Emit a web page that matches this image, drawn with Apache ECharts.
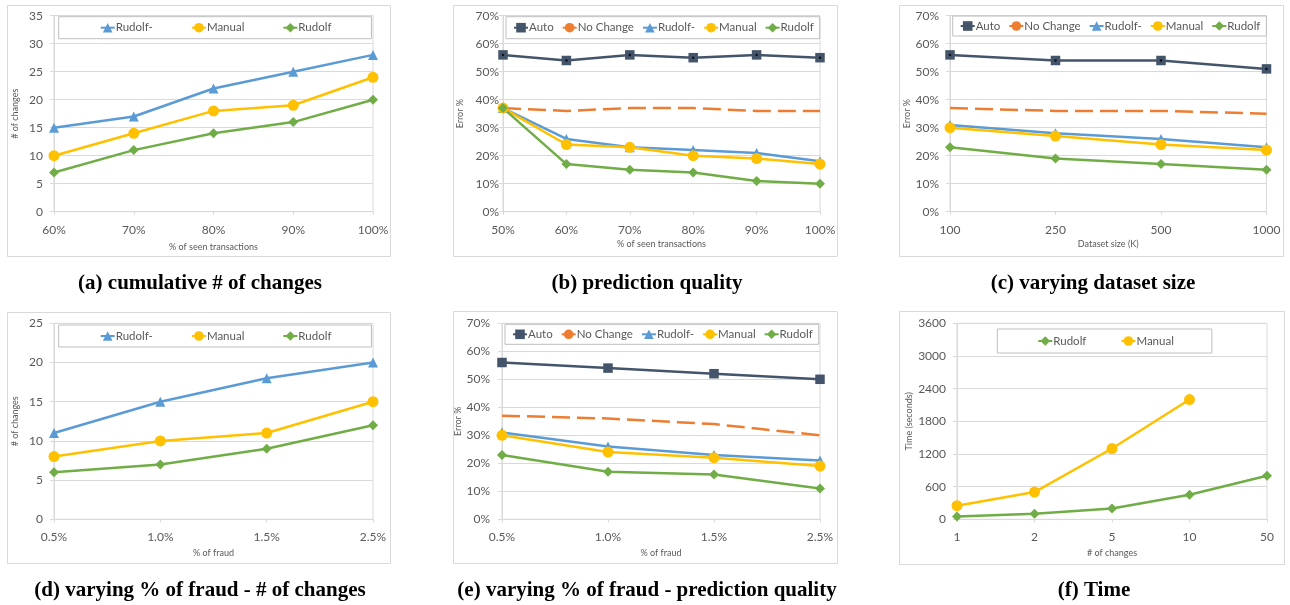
<!DOCTYPE html>
<html><head><meta charset="utf-8">
<script src="https://cdn.jsdelivr.net/npm/echarts@6/dist/echarts.min.js"></script>
<style>html,body{margin:0;padding:0;background:#fff}#c{width:1290px;height:605px}</style>
</head><body><div id="c"></div><script>
// ---------- DATA ----------
// (a) cumulative # of changes
const catsA = ['60%','70%','80%','90%','100%'];
const aRudolfMinus = [15,17,22,25,28];
const aManual = [10,14,18,19,24];
const aRudolf = [7,11,14,16,20];
const yA = {max:35, step:5};
// (b) prediction quality
const catsB = ['50%','60%','70%','80%','90%','100%'];
const bAuto = [56,54,56,55,56,55];
const bNoChange = [37,36,37,37,36,36];
const bRudolfMinus = [37,26,23,22,21,18];
const bManual = [37,24,23,20,19,17];
const bRudolf = [37,17,15,14,11,10];
// (c) varying dataset size
const catsC = ['100','250','500','1000'];
const cAuto = [56,54,54,51];
const cNoChange = [37,36,36,35];
const cRudolfMinus = [31,28,26,23];
const cManual = [30,27,24,22];
const cRudolf = [23,19,17,15];
// (d) varying % of fraud - # of changes
const catsD = ['0.5%','1.0%','1.5%','2.5%'];
const dRudolfMinus = [11,15,18,20];
const dManual = [8,10,11,15];
const dRudolf = [6,7,9,12];
const yD = {max:25, step:5};
// (e) varying % of fraud - prediction quality
const catsE = ['0.5%','1.0%','1.5%','2.5%'];
const eAuto = [56,54,52,50];
const eNoChange = [37,36,34,30];
const eRudolfMinus = [31,26,23,21];
const eManual = [30,24,22,19];
const eRudolf = [23,17,16,11];
// (f) Time
const catsF = ['1','2','5','10','50'];
const fRudolf = [50,100,200,450,800];
const fManual = [250,500,1300,2200,null];
const yF = {max:3600, step:600};
const yPct = {max:70, step:10};

const captions = ['(a) cumulative # of changes','(b) prediction quality','(c) varying dataset size',
  '(d) varying % of fraud - # of changes','(e) varying % of fraud - prediction quality','(f) Time'];
const xNames = ['% of seen transactions','% of seen transactions','Dataset size (K)','% of fraud','% of fraud','# of changes'];
const yNames = ['# of changes','Error %','Error %','# of changes','Error %','Time (seconds)'];

// ---------- STYLE ----------
const FONT = 'Lato';
const TXT = '#595959';
const GRID = '#d9d9d9';
const C = {auto:'#44546a', nochange:'#ed7d31', rminus:'#5b9bd5', manual:'#ffc000', rudolf:'#70ad47'};

const grids = [
  {left:54, top:15.7, width:319, height:196},
  {left:503, top:15.7, width:317, height:196},
  {left:950, top:15.7, width:316.5, height:196},
  {left:54, top:323.3, width:319, height:196},
  {left:502, top:323.3, width:318, height:196},
  {left:957, top:323.3, width:310, height:196}
].map(g => Object.assign({show:true, borderColor:GRID, borderWidth:1, containLabel:false}, g));

const cats = [catsA,catsB,catsC,catsD,catsE,catsF];
const xNameGaps = [31,28,28,29,29,29];
const xAxis = cats.map((c,i) => ({
  type:'category', gridIndex:i, data:c, boundaryGap:false,
  axisLine:{show:true, lineStyle:{color:GRID, width:1}},
  axisTick:{show:true, alignWithLabel:true, length:3, lineStyle:{color:GRID}},
  axisLabel:{color:TXT, fontSize:12, fontFamily:FONT, margin:12},
  splitLine:{show:false},
  name:xNames[i], nameLocation:'middle', nameGap:xNameGaps[i],
  nameTextStyle:{color:TXT, fontSize:9, fontFamily:FONT}
}));

const yRanges = [yA,yPct,yPct,yD,yPct,yF];
const yMargins = [11,4,11,11,12,11];
const yNameGaps = [34,38,38,34,37,43];
const yAxis = yRanges.map((r,i) => ({
  type:'value', gridIndex:i, min:0, max:r.max, interval:r.step,
  axisLine:{show:true, lineStyle:{color:GRID, width:1}},
  axisTick:{show:true, length:4, lineStyle:{color:GRID}},
  axisLabel:{color:TXT, fontSize:12, fontFamily:FONT, margin:yMargins[i],
    formatter: r===yPct ? (v => v + '%') : (v => String(v))},
  splitLine:{show:true, lineStyle:{color:GRID, width:1}},
  name:yNames[i], nameLocation:'middle', nameGap:yNameGaps[i],
  nameTextStyle:{color:TXT, fontSize:9, fontFamily:FONT}
}));

function ln(name, idx, data, color, symbol, size, dashed) {
  return {
    type:'line', name, xAxisIndex:idx, yAxisIndex:idx, data,
    symbol, symbolSize:size, showSymbol:true, connectNulls:false,
    lineStyle:{color, width:2.5, type: dashed ? [18,7] : 'solid', cap:'butt'},
    itemStyle:{color, borderColor:color, borderWidth:0},
    emphasis:{disabled:true}, animation:false, z:2
  };
}
function dots(idx, data) {
  return {type:'scatter', name:'Auto dot', xAxisIndex:idx, yAxisIndex:idx, data,
    symbol:'circle', symbolSize:2.5, itemStyle:{color:'#000'}, z:5,
    emphasis:{disabled:true}, silent:true, animation:false};
}
function auto(idx, data){ return ln('Auto', idx, data, C.auto, 'rect', 9.5, false); }
function noch(idx, data){ return ln('No Change', idx, data, C.nochange, 'none', 0, true); }
function rm(idx, data){ return ln('Rudolf-', idx, data, C.rminus, 'triangle', 10, false); }
function man(idx, data){ return ln('Manual', idx, data, C.manual, 'circle', 11, false); }
function rud(idx, data){ return ln('Rudolf', idx, data, C.rudolf, 'diamond', 10, false); }

const series = [
  rm(0,aRudolfMinus), man(0,aManual), rud(0,aRudolf),
  auto(1,bAuto), dots(1,bAuto), noch(1,bNoChange), rm(1,bRudolfMinus), man(1,bManual), rud(1,bRudolf),
  auto(2,cAuto), dots(2,cAuto), noch(2,cNoChange), rm(2,cRudolfMinus), man(2,cManual), rud(2,cRudolf),
  rm(3,dRudolfMinus), man(3,dManual), rud(3,dRudolf),
  auto(4,eAuto), noch(4,eNoChange), rm(4,eRudolfMinus), man(4,eManual), rud(4,eRudolf),
  rud(5,fRudolf), man(5,fManual)
];

const three = ['Rudolf-','Manual','Rudolf'];
const five = ['Auto',{name:'No Change', lineStyle:{type:'solid'}},'Rudolf-','Manual','Rudolf'];
function legend(data, left, top, padding, gap) {
  return {data, left, top, padding, itemGap:gap, orient:'horizontal', width:600,
    itemWidth:14, itemHeight:12, borderColor:'#bfbfbf', borderWidth:1,
    textStyle:{color:TXT, fontSize:11.5, fontFamily:FONT, padding:[0,0,0,-4]},
    selectedMode:false};
}
const legends = [
  legend(three, 58.7, 16.7, [5,40,5,41], 38),
  legend(five, 506, 16.7, [5,6,5,7], 8),
  legend(five, 952.7, 16, [4,6,4,7], 8),
  legend(three, 58.7, 325, [5,40,5,41], 38),
  legend(five, 505, 324.3, [4,6,4,7], 8),
  legend(['Rudolf','Manual'], 997.3, 329, [6,38,6,40], 34)
];

const capPos = [[200,273.5],[647,273.5],[1093,273.5],[200,580.5],[647,580.5],[1094,580.5]];
const titles = captions.map((t,i) => ({
  text:t, left:capPos[i][0], top:capPos[i][1], textAlign:'center', padding:0,
  textStyle:{fontFamily:'Liberation Serif', fontWeight:'bold', fontSize:21, color:'#000'}
}));

const boxes = [[7,5,383,251],[453,5,384,251],[899,5,384,251],[7,312,383,251],[453,311,384,252],[899,311,385,253]];
const graphic = boxes.map(b => ({type:'rect', shape:{x:b[0]+0.5,y:b[1]+0.5,width:b[2],height:b[3]},
  style:{fill:'none', stroke:GRID, lineWidth:1}, silent:true, z:-1}));

const chart = echarts.init(document.getElementById('c'), null, {renderer:'canvas'});
chart.setOption({animation:false, backgroundColor:'#fff', title:titles, grid:grids, xAxis, yAxis,
  legend:legends, series, graphic});
</script></body></html>
